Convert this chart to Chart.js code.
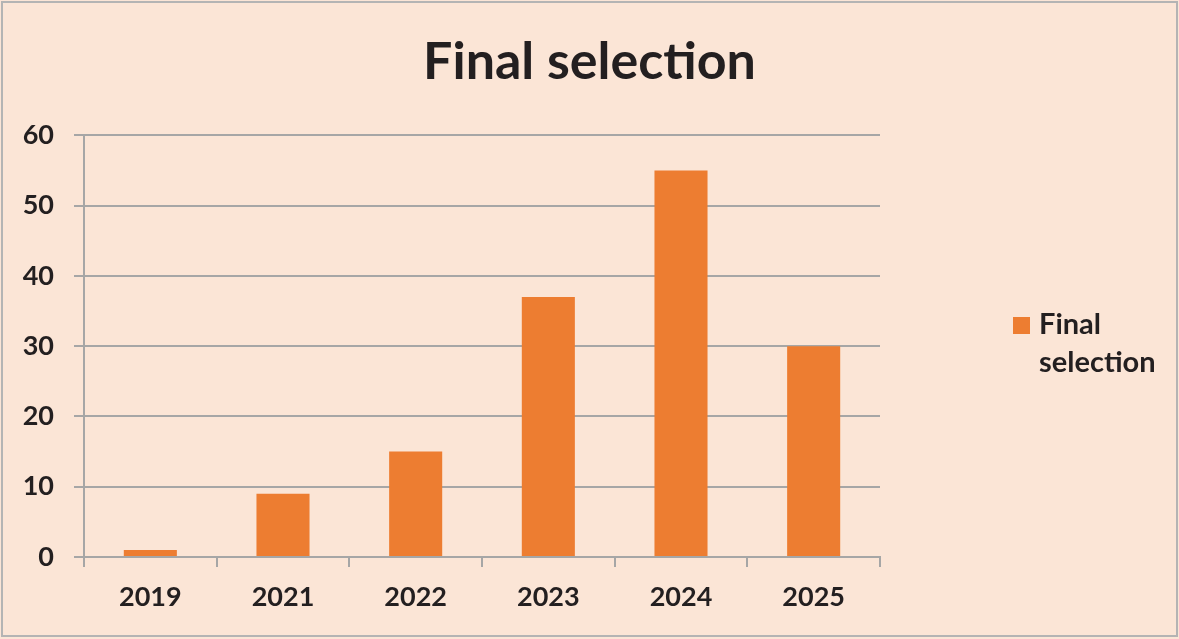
<!DOCTYPE html>
<html>
<head>
<meta charset="utf-8">
<script src="https://cdn.jsdelivr.net/npm/chart.js@4"></script>
<style>
html,body{margin:0;padding:0;background:#fff;}
#wrap{width:1179px;height:639px;position:relative;}
</style>
</head>
<body>
<div id="wrap"><canvas id="c" width="1179" height="639"></canvas></div>
<script>
const categories = ['2019', '2021', '2022', '2023', '2024', '2025'];
const finalSelection = [1, 9, 15, 37, 55, 30];
const yTicks = [0, 10, 20, 30, 40, 50, 60];
const seriesName = 'Final selection';
const titleText = 'Final selection';

const FONT = 'Lato, "Open Sans", sans-serif';
const BG = '#FBE5D6';
const BAR = '#ED7D31';
const GRID = '#A6A6A6';
const TEXT = '#231F20';

const bgPlugin = {
  id: 'bg',
  beforeDraw(chart) {
    const ctx = chart.ctx;
    ctx.save();
    ctx.fillStyle = BG;
    ctx.fillRect(0, 0, chart.width, chart.height);
    ctx.strokeStyle = '#B4B4B4';
    ctx.lineWidth = 2;
    ctx.strokeRect(2, 2, chart.width - 4, chart.height - 5);
    ctx.restore();
  }
};

const legendPlugin = {
  id: 'sideLegend',
  afterDraw(chart) {
    const ctx = chart.ctx;
    const ds = chart.data.datasets[0];
    const words = ds.label.split(' ');
    ctx.save();
    ctx.fillStyle = ds.backgroundColor;
    ctx.fillRect(1013, 317, 17, 17);
    ctx.fillStyle = TEXT;
    ctx.font = 'bold 29px ' + FONT;
    ctx.textBaseline = 'middle';
    ctx.textAlign = 'left';
    words.forEach((w, i) => ctx.fillText(w, 1039, 325 + i * 38));
    ctx.restore();
  }
};

new Chart(document.getElementById('c'), {
  type: 'bar',
  data: {
    labels: categories,
    datasets: [{
      label: seriesName,
      data: finalSelection,
      backgroundColor: BAR,
      borderWidth: 0,
      barPercentage: 0.4,
      categoryPercentage: 1.0
    }]
  },
  options: {
    responsive: false,
    animation: false,
    layout: { padding: 0 },
    plugins: {
      legend: { display: false },
      tooltip: { enabled: false },
      title: {
        display: true,
        text: titleText,
        color: TEXT,
        font: { family: FONT, size: 52, weight: 'bold' },
        padding: { top: 31, bottom: 42 }
      }
    },
    scales: {
      x: {
        offset: true,
        grid: {
          offset: true,
          drawOnChartArea: false,
          drawTicks: true,
          tickLength: 10,
          color: GRID,
          lineWidth: 2
        },
        border: { display: true, color: GRID, width: 2 },
        ticks: {
          color: TEXT,
          font: { family: FONT, size: 27, weight: 'bold' },
          padding: 14,
          maxRotation: 0
        },
        afterFit(scale) { scale.height = 82; }
      },
      y: {
        min: 0,
        max: 60,
        afterBuildTicks(scale) { scale.ticks = yTicks.map(v => ({ value: v })); },
        grid: {
          color: GRID,
          lineWidth: 2,
          tickLength: 10,
          drawTicks: true
        },
        border: { display: true, color: GRID, width: 2 },
        ticks: {
          color: TEXT,
          font: { family: FONT, size: 27, weight: 'bold' },
          padding: 20
        },
        afterFit(scale) { scale.width = 84; }
      },
      yRightSpace: {
        position: 'right',
        display: true,
        min: 0,
        max: 60,
        grid: { display: false, drawTicks: false },
        border: { display: false },
        ticks: { display: false },
        afterFit(scale) { scale.width = 299; }
      }
    }
  },
  plugins: [bgPlugin, legendPlugin]
});
</script>
</body>
</html>
